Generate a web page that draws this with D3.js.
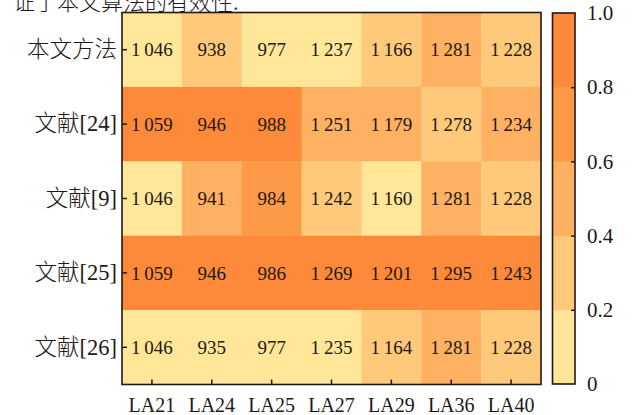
<!DOCTYPE html>
<html><head><meta charset="utf-8">
<script src="https://cdn.jsdelivr.net/npm/d3@7"></script>
<style>body{margin:0;background:#fff}svg{display:block}</style>
</head><body>
<svg id="c" width="632" height="415"></svg>
<script>
const methods = ["本文方法", "文献[24]", "文献[9]", "文献[25]", "文献[26]"];
const datasets = ["LA21", "LA24", "LA25", "LA27", "LA29", "LA36", "LA40"];
const values = [
  [1046, 938, 977, 1237, 1166, 1281, 1228],
  [1059, 946, 988, 1251, 1179, 1278, 1234],
  [1046, 941, 984, 1242, 1160, 1281, 1228],
  [1059, 946, 986, 1269, 1201, 1295, 1243],
  [1046, 935, 977, 1235, 1164, 1281, 1228]
];
// colour level of each cell (0..1)
const shade = [
  [0.1, 0.3, 0.1, 0.1, 0.3, 0.5, 0.3],
  [0.9, 0.9, 0.9, 0.5, 0.5, 0.3, 0.5],
  [0.1, 0.5, 0.7, 0.3, 0.1, 0.5, 0.3],
  [0.9, 0.9, 0.9, 0.9, 0.9, 0.9, 0.9],
  [0.1, 0.1, 0.1, 0.1, 0.3, 0.5, 0.3]
];
const colorbarTicks = [0, 0.2, 0.4, 0.6, 0.8, 1.0];
const palette = ["#ffe699", "#fec97b", "#feb063", "#fd9a48", "#fd8a3a"];
const introText = "证了本文算法的有效性.";

const ink = "#231815";
const svg = d3.select("#c");
const M = {l: 122, t: 12.5, r: 541, b: 384.5};

svg.append("text").attr("x", 13).attr("y", 10)
  .attr("font-family", "'Noto Sans CJK SC'").attr("font-size", 22).attr("font-weight", 300)
  .attr("fill", ink).text(introText);

const x = d3.scaleBand().domain(datasets).range([M.l, M.r]);
const y = d3.scaleBand().domain(methods).range([M.t, M.b]);
const color = d3.scaleQuantize().domain([0, 1]).range(palette);
const loc = d3.formatLocale({decimal: ".", thousands: "\u2009", grouping: [3], currency: ["", ""]});
const fmt = loc.format(",d");

const cells = [];
values.forEach((row, i) => row.forEach((v, j) => cells.push({m: methods[i], d: datasets[j], v, s: shade[i][j]})));

svg.append("g").selectAll("rect").data(cells).join("rect")
  .attr("x", d => x(d.d)).attr("y", d => y(d.m))
  .attr("width", x.bandwidth() + 0.5).attr("height", y.bandwidth() + 0.5)
  .attr("fill", d => color(d.s));

svg.append("g").selectAll("text").data(cells).join("text")
  .attr("x", d => x(d.d) + x.bandwidth() / 2)
  .attr("y", d => y(d.m) + y.bandwidth() / 2)
  .attr("dy", "0.35em").attr("text-anchor", "middle")
  .attr("font-family", "'Liberation Serif', 'Times New Roman', serif")
  .attr("font-size", 19).attr("fill", ink)
  .text(d => fmt(d.v));

// axes
const ax = svg.append("g").attr("transform", `translate(0,${M.b})`)
  .call(d3.axisBottom(x).tickSizeInner(-5).tickSizeOuter(0).tickPadding(13));
const ay = svg.append("g").attr("transform", `translate(${M.l},0)`)
  .call(d3.axisLeft(y).tickSizeInner(-5).tickSizeOuter(0).tickPadding(5));
[ax, ay].forEach(g => {
  g.select(".domain").remove();
  g.selectAll(".tick line").attr("stroke", ink).attr("stroke-width", 1.5);
  g.selectAll(".tick text").attr("fill", ink);
});
ax.selectAll(".tick text").attr("font-family", "'Liberation Serif', serif").attr("font-size", 20);
ay.selectAll(".tick text").attr("font-family", "'Liberation Serif', 'Noto Sans CJK SC', serif")
  .attr("font-size", 22.5).attr("font-weight", 300);

svg.append("rect").attr("x", M.l).attr("y", M.t).attr("width", M.r - M.l).attr("height", M.b - M.t)
  .attr("fill", "none").attr("stroke", ink).attr("stroke-width", 1.6);

// colorbar
const cb = {x0: 552.5, x1: 575, t: 13, b: 384};
const cy = d3.scaleLinear().domain([0, 1]).range([cb.b, cb.t]);
const bins = palette.map((c, i) => ({lo: i / palette.length, hi: (i + 1) / palette.length, c}));
svg.append("g").selectAll("rect").data(bins).join("rect")
  .attr("x", cb.x0).attr("width", cb.x1 - cb.x0)
  .attr("y", d => cy(d.hi)).attr("height", d => cy(d.lo) - cy(d.hi) + 0.5)
  .attr("fill", d => color((d.lo + d.hi) / 2));
const cax = svg.append("g").attr("transform", `translate(${cb.x1},0)`)
  .call(d3.axisRight(cy).tickValues(colorbarTicks).tickSizeInner(-4).tickSizeOuter(0).tickPadding(12)
    .tickFormat(d => d === 0 ? "0" : d3.format(".1f")(d)));
cax.select(".domain").remove();
cax.selectAll(".tick line").attr("stroke", ink).attr("stroke-width", 1.5)
  .filter(d => d === 0 || d === 1).remove();
cax.selectAll(".tick text").attr("fill", ink).attr("font-family", "'Liberation Serif', serif").attr("font-size", 21);
svg.append("rect").attr("x", cb.x0).attr("y", cb.t).attr("width", cb.x1 - cb.x0).attr("height", cb.b - cb.t)
  .attr("fill", "none").attr("stroke", ink).attr("stroke-width", 1.6);
</script>
</body></html>
